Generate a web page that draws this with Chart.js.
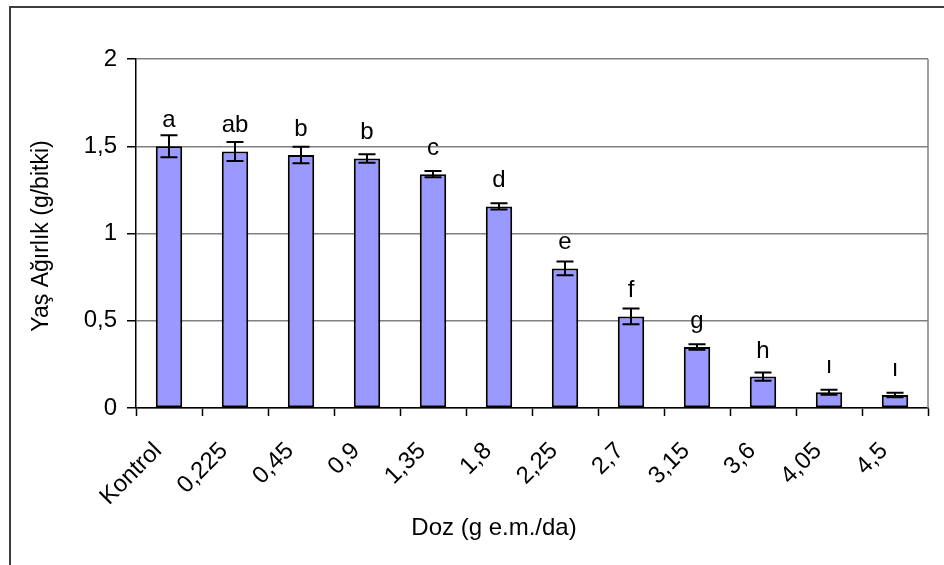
<!DOCTYPE html>
<html>
<head>
<meta charset="utf-8">
<script src="https://cdn.jsdelivr.net/npm/chart.js"></script>
<style>
  html, body { margin: 0; padding: 0; background: #fff; }
  canvas { display: block; }
</style>
</head>
<body>
<canvas id="myChart" width="944" height="565"></canvas>
<script>
var doses = ['Kontrol', '0,225', '0,45', '0,9', '1,35', '1,8', '2,25', '2,7', '3,15', '3,6', '4,05', '4,5'];
var weights = [1.50, 1.47, 1.45, 1.43, 1.34, 1.155, 0.80, 0.525, 0.35, 0.18, 0.09, 0.075];
var errors = [0.063, 0.055, 0.047, 0.024, 0.018, 0.018, 0.039, 0.045, 0.016, 0.024, 0.014, 0.013];
var letters = ['a', 'ab', 'b', 'b', 'c', 'd', 'e', 'f', 'g', 'h', 'ı', 'ı'];
var yTickLabels = ['0', '0,5', '1', '1,5', '2'];

var FONT = '"Liberation Sans", Arial, sans-serif';

// frame, error bars, letters and axis titles
var extras = {
    id: 'extras',
    beforeDraw: function(chart) {
        var ctx = chart.ctx;
        ctx.save();
        ctx.fillStyle = '#fff';
        ctx.fillRect(0, 0, chart.width, chart.height);
        ctx.strokeStyle = '#3c3c3c';
        ctx.lineWidth = 2;
        ctx.strokeRect(10, 7, 1000, 1000);
        ctx.restore();
    },
    afterDatasetsDraw: function(chart) {
        var ctx = chart.ctx;
        var y = chart.scales.y;
        var area = chart.chartArea;
        var meta = chart.getDatasetMeta(0);

        ctx.save();
        // right edge of the plot area
        ctx.strokeStyle = '#808080';
        ctx.lineWidth = 1.5;
        ctx.beginPath();
        ctx.moveTo(area.right, area.top);
        ctx.lineTo(area.right, area.bottom);
        ctx.stroke();

        ctx.strokeStyle = '#000';
        ctx.lineWidth = 2;
        meta.data.forEach(function(bar, i) {
            var hi = y.getPixelForValue(weights[i] + errors[i]);
            var lo = y.getPixelForValue(weights[i] - errors[i]);
            ctx.beginPath();
            ctx.moveTo(bar.x, hi);
            ctx.lineTo(bar.x, lo);
            ctx.moveTo(bar.x - 8.5, hi);
            ctx.lineTo(bar.x + 8.5, hi);
            ctx.moveTo(bar.x - 8.5, lo);
            ctx.lineTo(bar.x + 8.5, lo);
            ctx.stroke();
        });

        ctx.fillStyle = '#000';
        ctx.font = '24px ' + FONT;
        ctx.textAlign = 'center';
        ctx.textBaseline = 'alphabetic';
        meta.data.forEach(function(bar, i) {
            ctx.fillText(letters[i], bar.x, y.getPixelForValue(weights[i]) - 19);
        });

        ctx.fillText('Doz (g e.m./da)', 494, 535);

        ctx.translate(48, 236);
        ctx.rotate(-Math.PI / 2);
        ctx.font = '23px ' + FONT;
        ctx.fillText('Yaş Ağırlık (g/bitki)', 0, 0);
        ctx.restore();
    }
};

function createChart() {
    var ctx = document.getElementById('myChart').getContext('2d');
    var chartData = {
        labels: doses,
        datasets: [{
            data: weights,
            backgroundColor: '#9999ff',
            borderColor: '#000',
            borderWidth: 2,
            borderSkipped: false,
            barPercentage: 0.4,
            categoryPercentage: 1.0
        }]
    };

    var options = {
        responsive: false,
        animation: false,
        layout: {
            padding: { top: 59, right: 16, left: 0, bottom: 0 }
        },
        plugins: {
            legend: { display: false },
            tooltip: { enabled: false }
        },
        scales: {
            x: {
                grid: {
                    drawOnChartArea: false,
                    offset: true,
                    tickLength: 8,
                    tickColor: '#000',
                    tickWidth: 1.5
                },
                border: { color: '#000', width: 1.5 },
                ticks: {
                    color: '#000',
                    font: { family: FONT, size: 24 },
                    minRotation: 45,
                    maxRotation: 45,
                    autoSkip: false,
                    padding: 21,
                    labelOffset: -11
                },
                afterFit: function(scale) { scale.height = 157; }
            },
            y: {
                min: 0,
                max: 2,
                ticks: {
                    stepSize: 0.5,
                    color: '#000',
                    font: { family: FONT, size: 24 },
                    padding: 10,
                    callback: function(v, i) { return yTickLabels[i]; }
                },
                grid: {
                    color: '#808080',
                    lineWidth: 1.5,
                    tickLength: 9,
                    tickColor: '#000',
                    tickWidth: 1.5
                },
                border: { color: '#000', width: 1.5 },
                afterFit: function(scale) { scale.width = 136; }
            }
        }
    };

    new Chart(ctx, {
        type: 'bar',
        data: chartData,
        options: options,
        plugins: [extras]
    });
}

createChart();
</script>
</body>
</html>
